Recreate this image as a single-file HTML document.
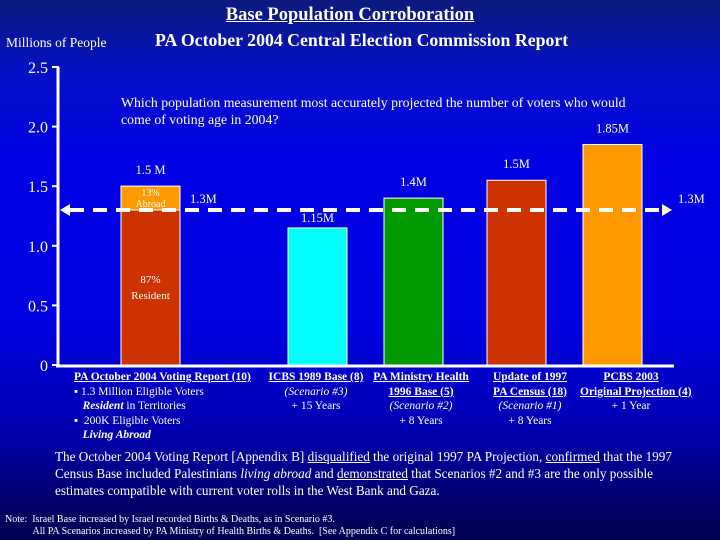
<!DOCTYPE html>
<html><head><meta charset="utf-8"><style>
body{margin:0}
#root{position:relative;width:720px;height:540px;overflow:hidden;font-family:"Liberation Serif",serif;color:#fff;background:linear-gradient(to bottom,#0c1a7c 0%,#0410c8 14%,#0000e4 30%,#0000e0 60%,#0000b0 80%,#00006a 93%,#000050 100%)}
.t{position:absolute;white-space:nowrap}
u{text-decoration:underline}
</style></head><body>
<div id="root">
<div class="t" style="left:-10px;width:720px;text-align:center;top:5px;font-size:18.5px;font-weight:bold"><u>Base Population Corroboration</u></div>
<div class="t" style="left:155px;top:30px;font-size:17.8px;font-weight:bold">PA October 2004 Central Election Commission Report</div>
<div class="t" style="left:6px;top:35px;font-size:13.5px">Millions of People</div>
<div class="t" style="left:121px;top:94px;font-size:13.8px;line-height:17px">Which population measurement most accurately projected the number of voters who would<br>come of voting age in 2004?</div>
<svg id="chart" width="720" height="540" style="position:absolute;left:0;top:0"></svg>
<div class="t" style="left:0;top:370px;font-size:11.5px;line-height:14.5px;width:720px;height:80px">
<div class="t" style="left:74px;top:0"><b><u>PA October 2004 Voting Report (10)</u></b><br>&#9642; 1.3 Million Eligible Voters<br>&nbsp;&nbsp;&nbsp;<b><i>Resident</i></b> in Territories<br>&#9642; &nbsp;200K Eligible Voters<br>&nbsp;&nbsp;&nbsp;<b><i>Living Abroad</i></b></div>
<div class="t" style="left:268px;top:0;text-align:center;width:96px"><b><u>ICBS 1989 Base (8)</u></b><br><i>(Scenario #3)</i><br>+ 15 Years</div>
<div class="t" style="left:366px;top:0;text-align:center;width:110px"><b><u>PA Ministry Health</u></b><br><b><u>1996 Base (5)</u></b><br><i>(Scenario #2)</i><br>+ 8 Years</div>
<div class="t" style="left:482px;top:0;text-align:center;width:96px"><b><u>Update of 1997</u></b><br><b><u>PA Census (18)</u></b><br><i>(Scenario #1)</i><br>+ 8 Years</div>
<div class="t" style="left:580px;top:0;text-align:center;width:102px"><b><u>PCBS 2003</u></b><br><b><u>Original Projection (4)</u></b><br>+ 1 Year</div>
</div>
<div class="t" style="left:55px;top:448px;font-size:13.2px;line-height:17px">The October 2004 Voting Report [Appendix B] <u>disqualified</u> the original 1997 PA Projection, <u>confirmed</u> that the 1997<br>Census Base included Palestinians <i>living abroad</i> and <u>demonstrated</u> that Scenarios #2 and #3 are the only possible<br>estimates compatible with current voter rolls in the West Bank and Gaza.</div>
<div class="t" style="left:5px;top:514px;font-size:10px;line-height:12px">Note: &nbsp;Israel Base increased by Israel recorded Births &amp; Deaths, as in Scenario #3.<br>&nbsp;&nbsp;&nbsp;&nbsp;&nbsp;&nbsp;&nbsp;&nbsp;&nbsp;&nbsp;&nbsp;All PA Scenarios increased by PA Ministry of Health Births &amp; Deaths. &nbsp;[See Appendix C for calculations]</div>
</div>
<script>
const categories=["PA Oct 2004","ICBS 1989","PA MoH 1996","PA Census 1997","PCBS 2003"];
const values=[1.5,1.15,1.4,1.55,1.85];
const valueLabels=["1.5 M","1.15M","1.4M","1.5M","1.85M"];
const residentValue=1.3;
const referenceValue=1.3;
const yTicks=[0,0.5,1.0,1.5,2.0,2.5];
const yTickLabels=["0","0.5","1.0","1.5","2.0","2.5"];
const colors=["#cc3300","#00ffff","#009900","#cc3300","#ff9900"];
const barLeft=[121,288,384,487,583];
const barW=59;
const y=v=>365-119.2*v;
const svg=document.getElementById('chart');
const NS='http://www.w3.org/2000/svg';
function mk(tag,attrs){const e=document.createElementNS(NS,tag);for(const k in attrs)e.setAttribute(k,attrs[k]);svg.appendChild(e);return e;}
yTicks.forEach((t,i)=>{
 const l=mk('line',{x1:52,x2:59,y1:y(t),y2:y(t),stroke:'#fff','stroke-width':2});
 
 
 const tx=mk('text',{x:48,y:y(t)+6,'text-anchor':'end',fill:'#fff','font-size':16,'font-family':'Liberation Serif, serif'});
 tx.textContent=yTickLabels[i];
 
 
});
const ax=mk('line',{x1:58,x2:58,y1:y(2.5),y2:y(0)+1,stroke:'#fff','stroke-width':3});


values.forEach((v,i)=>{
 const x=barLeft[i];
 const r=mk('rect',{x:x,y:y(v),width:barW,height:y(0)-y(v),fill:colors[i],stroke:'#fff','stroke-width':1});
 
 
 if(i===0){
  const a=mk('rect',{x:x,y:y(v),width:barW,height:y(residentValue)-y(v),fill:'#ff9900',stroke:'#fff','stroke-width':1});
  
  
  [["13%",y(v)+10,10],["Abroad",y(v)+21,10],["87%",283,11],["Resident",299,11]].forEach(s=>{
   const t=mk('text',{x:x+barW/2,y:s[1],'text-anchor':'middle',fill:'#fff','font-size':s[2],'font-family':'Liberation Serif, serif'});
   t.textContent=s[0];
   
   
  });
 }
 const ly=i===1?y(v)-6:y(v)-12;
 const t=mk('text',{x:x+barW/2,y:ly,'text-anchor':'middle',fill:'#fff','font-size':12.5,'font-family':'Liberation Serif, serif'});
 t.textContent=valueLabels[i];
 
 
});
const bx=mk('line',{x1:56,x2:674,y1:y(0)+1,y2:y(0)+1,stroke:'#fff','stroke-width':3});


const ry=y(referenceValue);
const dl=mk('line',{x1:70,x2:660,y1:ry,y2:ry,stroke:'#fff','stroke-width':4,'stroke-dasharray':'14 9'});


const a1=mk('polygon',{points:`60,${ry} 70,${ry-6} 70,${ry+6}`,fill:'#fff'});


const a2=mk('polygon',{points:`672,${ry} 662,${ry-6} 662,${ry+6}`,fill:'#fff'});


[[190,ry-7,'start'],[678,ry-7,'start']].forEach(p=>{
 const t=mk('text',{x:p[0],y:p[1],'text-anchor':p[2],fill:'#fff','font-size':12.5,'font-family':'Liberation Serif, serif'});
 t.textContent=referenceValue+'M';
 
 
});
</script>
</body></html>
